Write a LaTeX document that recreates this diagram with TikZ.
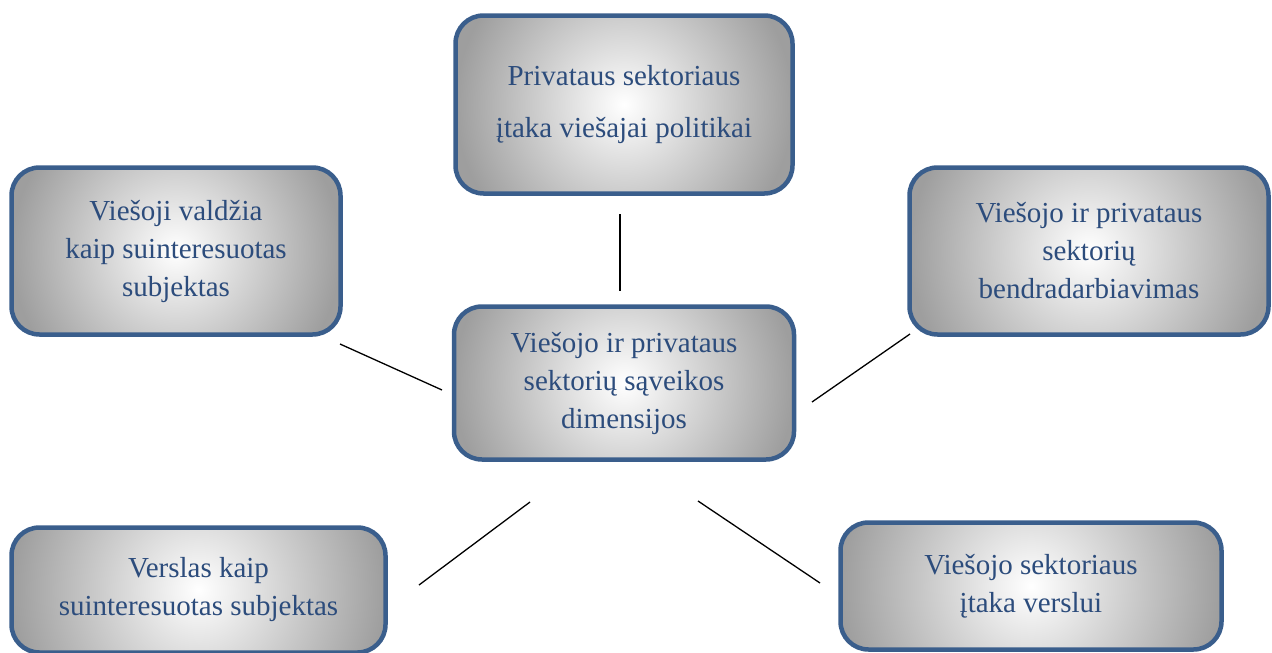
\documentclass[tikz,border=0pt]{standalone}
\usepackage{fontspec}
\setmainfont{Liberation Serif}
\usepackage{tikz}
\usetikzlibrary{calc}
\definecolor{boxblue}{HTML}{3A5E8C}
\definecolor{textblue}{HTML}{2C4C7C}
\definecolor{edgegray}{HTML}{9E9E9E}
\tikzset{
    dimbox/.style={draw=boxblue, line width=4.5pt, rounded corners=28pt, fill=edgegray,
        path picture={\fill[inner color=white, outer color=edgegray]
            let \p1=(path picture bounding box.east), \p2=(path picture bounding box.center)
            in (\p2) circle ({\x1-\x2});},
        text=textblue, align=center, inner sep=0pt, font=\fontsize{29}{38}\selectfont},
    tie/.style={black, line width=1.3pt}
}

\begin{document}
\begin{tikzpicture}[x=1pt, y=-1pt]
    \useasboundingbox (0,0) rectangle (1272,653);
    \clip (0,0) rectangle (1272,653);
    % Centre
    \node[dimbox, minimum width=340pt, minimum height=153pt] (hub) at (624,383)
        {Viešojo ir privataus\\sektorių sąveikos\\dimensijos};
    % Dimensions
    \node[dimbox, minimum width=337pt, minimum height=178pt, font=\fontsize{29}{52}\selectfont] (policy) at (624,104.5)
        {Privataus sektoriaus\\įtaka viešajai politikai};
    \node[dimbox, minimum width=329pt, minimum height=167pt] (state) at (176,251)
        {Viešoji valdžia\\kaip suinteresuotas\\subjektas};
    \node[dimbox, minimum width=359pt, minimum height=167pt] (partner) at (1089,251)
        {Viešojo ir privataus\\sektorių\\bendradarbiavimas};
    \node[dimbox, minimum width=374pt, minimum height=125pt] (business) at (198.5,590)
        {Verslas kaip\\suinteresuotas subjektas};
    \node[dimbox, minimum width=381pt, minimum height=127pt] (influence) at (1031,586)
        {Viešojo sektoriaus\\įtaka verslui};
    % Loose line ends
    \coordinate (policy-end) at (620,214);
    \coordinate (policy-hub) at (620,291);
    \coordinate (state-end) at (340,344);
    \coordinate (state-hub) at (442,390);
    \coordinate (partner-end) at (910,334);
    \coordinate (partner-hub) at (812,402);
    \coordinate (business-end) at (419,585);
    \coordinate (business-hub) at (530,502);
    \coordinate (influence-end) at (820,583);
    \coordinate (influence-hub) at (698,501);
    % Lines
    \foreach \n in {policy, state, partner, business, influence}
        \draw[tie] (\n-end) -- (\n-hub);
\end{tikzpicture}
\end{document}
